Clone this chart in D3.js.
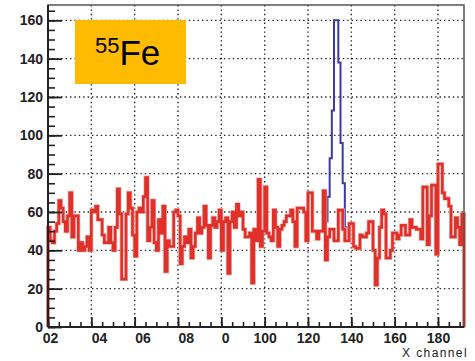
<!DOCTYPE html>
<html>
<head>
<meta charset="utf-8">
<script src="https://cdn.jsdelivr.net/npm/d3@7"></script>
<style>
  body { margin: 0; background: #fff; }
  svg { display: block; }
  .lbl { font-family: "Liberation Sans", Arial, sans-serif; font-weight: bold; font-size: 14px; fill: #222; }
  .ttl { font-family: "Liberation Sans", Arial, sans-serif; font-size: 12px; fill: #222; }
</style>
</head>
<body>
<div id="chart"></div>
<script>
// bin contents, one value per channel (0..191)
const redCounts = [
  52, 45, 44, 50, 54, 66, 62, 55, 50, 58,
  70, 47, 58, 58, 40, 44, 40, 42, 47, 40,
  61, 60, 63, 56, 56, 48, 44, 44, 52, 44,
  40, 52, 72, 59, 25, 25, 59, 70, 62, 48,
  37, 60, 62, 60, 68, 78, 45, 52, 66, 44,
  40, 56, 49, 63, 29, 45, 42, 42, 60, 61,
  58, 33, 42, 47, 44, 51, 36, 42, 49, 57,
  49, 52, 63, 53, 36, 53, 57, 52, 55, 61,
  40, 55, 57, 28, 55, 60, 52, 64, 58, 60,
  51, 47, 47, 49, 23, 51, 45, 77, 42, 50,
  73, 49, 47, 45, 61, 52, 42, 51, 53, 55,
  58, 58, 61, 55, 42, 62, 62, 62, 60, 45,
  70, 70, 50, 50, 46, 50, 50, 71, 35, 47,
  51, 51, 45, 45, 61, 61, 51, 45, 45, 54,
  54, 42, 41, 41, 48, 47, 47, 49, 55, 55,
  40, 22, 36, 52, 61, 59, 36, 36, 40, 49,
  49, 46, 48, 53, 53, 48, 48, 56, 52, 52,
  51, 51, 46, 73, 73, 43, 58, 74, 74, 38,
  85, 85, 70, 67, 67, 63, 47, 47, 57, 52,
  43, 59
];
// 55Fe line: same as background outside the peak
const peakStart = 128;
const peakCounts = [55, 68, 88, 113, 160, 160, 138, 96, 75, 52];
const blueCounts = redCounts.map((v, i) =>
  (i >= peakStart && i < peakStart + peakCounts.length) ? peakCounts[i - peakStart] : v);

const xMajor = [0, 20, 40, 60, 80, 100, 120, 140, 160, 180];
const xTickLabels = ["02", "04", "06", "08", "0", "100", "120", "140", "160", "180"];
const yMajor = [0, 20, 40, 60, 80, 100, 120, 140, 160];

const width = 475, height = 361;
const nBins = redCounts.length;

const x = d3.scaleLinear().domain([0, 192]).range([48, 464]);
const y = d3.scaleLinear().domain([0, 168]).range([327, 5]);

const svg = d3.select("#chart").append("svg")
  .attr("width", width)
  .attr("height", height);

// dotted grid
svg.append("g")
  .selectAll("line")
  .data(xMajor.slice(1))
  .enter().append("line")
  .attr("x1", d => x(d)).attr("x2", d => x(d))
  .attr("y1", y(168)).attr("y2", y(0))
  .attr("stroke", "#222").attr("stroke-width", 1.4)
  .attr("stroke-dasharray", "1.4,3");
svg.append("g")
  .selectAll("line")
  .data(yMajor.slice(1))
  .enter().append("line")
  .attr("x1", x(0)).attr("x2", x(192))
  .attr("y1", d => y(d)).attr("y2", d => y(d))
  .attr("stroke", "#222").attr("stroke-width", 1.4)
  .attr("stroke-dasharray", "1.4,3");

// step outline of a histogram, closed to zero at both ends
function histPoints(counts) {
  let pts = [[0, 0]];
  counts.forEach((v, i) => { pts.push([i, v]); pts.push([i + 1, v]); });
  pts.push([nBins, 0]);
  return pts;
}
const line = d3.line().x(d => x(d[0])).y(d => y(d[1]));

svg.append("path")
  .attr("d", line(histPoints(blueCounts)))
  .attr("fill", "none")
  .attr("stroke", "#3d3a9e")
  .attr("stroke-width", 2);

svg.append("path")
  .attr("d", line(histPoints(redCounts)))
  .attr("fill", "none")
  .attr("stroke", "#f3b3b0")
  .attr("stroke-width", 4);
svg.append("path")
  .attr("d", line(histPoints(redCounts)))
  .attr("fill", "none")
  .attr("stroke", "#e0302a")
  .attr("stroke-width", 2.6);

// frame
svg.append("rect")
  .attr("x", x(0)).attr("y", y(168))
  .attr("width", x(192) - x(0)).attr("height", y(0) - y(168))
  .attr("fill", "none").attr("stroke", "#555").attr("stroke-width", 1.5);

// y axis: minor then major ticks pointing inward
svg.append("g")
  .attr("transform", `translate(${x(0)},0)`)
  .call(d3.axisLeft(y).tickValues(d3.range(0, 166, 5)).tickSize(-7).tickFormat(""))
  .call(g => g.select(".domain").remove())
  .call(g => g.selectAll("line").attr("stroke", "#222").attr("stroke-width", 1.6));
svg.append("g")
  .attr("transform", `translate(${x(0)},0)`)
  .call(d3.axisLeft(y).tickValues(yMajor).tickSize(-14).tickPadding(5))
  .call(g => g.select(".domain").remove())
  .call(g => g.selectAll("line").attr("stroke", "#222").attr("stroke-width", 1.8))
  .call(g => g.selectAll("text").attr("class", "lbl").attr("font-size", null).attr("font-family", null));

// x axis
svg.append("g")
  .attr("transform", `translate(0,${y(0)})`)
  .call(d3.axisBottom(x).tickValues(d3.range(0, 192, 5)).tickSize(-5).tickFormat(""))
  .call(g => g.select(".domain").remove())
  .call(g => g.selectAll("line").attr("stroke", "#222").attr("stroke-width", 1.6));
svg.append("g")
  .attr("transform", `translate(0,${y(0)})`)
  .call(d3.axisBottom(x).tickValues(xMajor).tickSize(-10).tickPadding(6)
    .tickFormat((d, i) => xTickLabels[i]))
  .call(g => g.select(".domain").remove())
  .call(g => g.selectAll("line").attr("stroke", "#222").attr("stroke-width", 1.8))
  .call(g => g.selectAll("text")
    .attr("class", "lbl").attr("font-size", null).attr("font-family", null)
    .attr("text-anchor", (d, i) => (i > 0 && xTickLabels[i].length < 3) ? "start" : "middle")
    .attr("dx", (d, i) => i === 0 ? 2 : 0));

// axis lines
svg.append("line")
  .attr("x1", x(0)).attr("x2", x(0)).attr("y1", y(168)).attr("y2", y(0))
  .attr("stroke", "#222").attr("stroke-width", 2);
svg.append("line")
  .attr("x1", x(0)).attr("x2", x(192)).attr("y1", y(0)).attr("y2", y(0))
  .attr("stroke", "#222").attr("stroke-width", 2);

// axis title
svg.append("text")
  .attr("class", "ttl")
  .attr("x", 468).attr("y", 357)
  .attr("text-anchor", "end")
  .attr("letter-spacing", 1.4)
  .text("X channel");

// isotope label
const tag = svg.append("g");
tag.append("rect")
  .attr("x", 75).attr("y", 20).attr("width", 111).attr("height", 64)
  .attr("fill", "#ffbb00");
const t = tag.append("text")
  .attr("x", 95).attr("y", 65)
  .attr("font-family", "Liberation Sans, Arial, sans-serif")
  .attr("fill", "#000");
t.append("tspan").attr("font-size", 22).attr("dy", -12).text("55");
t.append("tspan").attr("font-size", 35).attr("dy", 12).text("Fe");
</script>
</body>
</html>
